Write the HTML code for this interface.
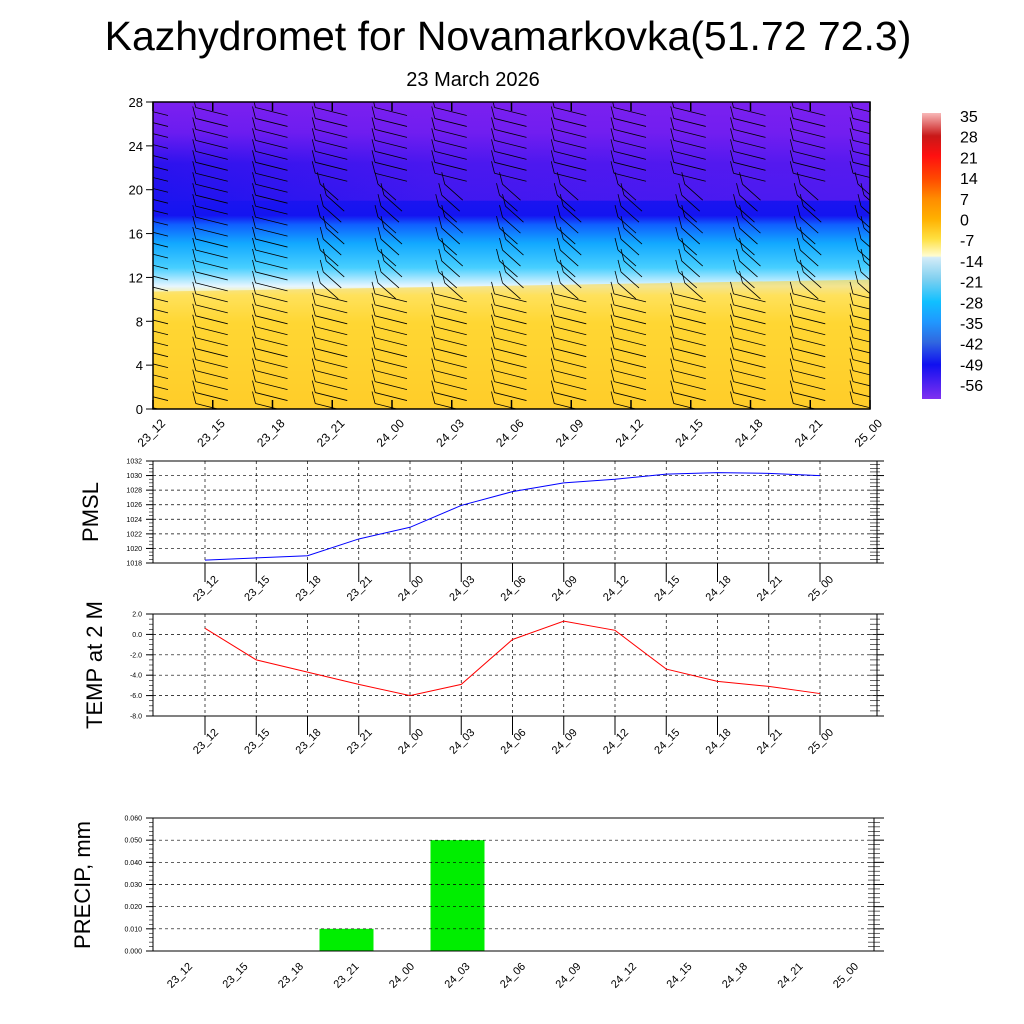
<!DOCTYPE html>
<html><head><meta charset="utf-8">
<style>
html,body{margin:0;padding:0;background:#fff;}
svg{display:block;font-family:"Liberation Sans",Arial,sans-serif;}
</style></head>
<body>
<svg id="s" width="1024" height="1024" viewBox="0 0 1024 1024" xmlns="http://www.w3.org/2000/svg">
<defs>
<clipPath id="clipTop"><rect x="153" y="102" width="717" height="307"/></clipPath>
<linearGradient id="bg" x1="0" y1="1" x2="0" y2="0">
<stop offset="0" stop-color="#ffc21e"/>
<stop offset="0.28" stop-color="#ffd833"/>
<stop offset="0.37" stop-color="#fff08c"/>
<stop offset="0.40" stop-color="#e6f6ff"/>
<stop offset="0.46" stop-color="#48cfff"/>
<stop offset="0.54" stop-color="#12a8ff"/>
<stop offset="0.60" stop-color="#1060ff"/>
<stop offset="0.63" stop-color="#1414f0"/>
<stop offset="0.80" stop-color="#2c12ee"/>
<stop offset="0.90" stop-color="#6a1cf0"/>
<stop offset="1" stop-color="#7c20f0"/>
</linearGradient>
<linearGradient id="violet" x1="0" y1="0" x2="1" y2="0">
<stop offset="0" stop-color="#7a20f0" stop-opacity="0"/>
<stop offset="0.4" stop-color="#7a20f0" stop-opacity="0.7"/>
<stop offset="1" stop-color="#7a20f0" stop-opacity="1"/>
</linearGradient>
<linearGradient id="cb" x1="0" y1="0" x2="0" y2="1">
<stop offset="0" stop-color="#f8b8b8"/>
<stop offset="0.08" stop-color="#c81818"/>
<stop offset="0.15" stop-color="#ff1010"/>
<stop offset="0.23" stop-color="#ff4a00"/>
<stop offset="0.30" stop-color="#ff8c00"/>
<stop offset="0.37" stop-color="#ffb000"/>
<stop offset="0.44" stop-color="#ffe040"/>
<stop offset="0.50" stop-color="#fffcd0"/>
<stop offset="0.505" stop-color="#d4ecf8"/>
<stop offset="0.58" stop-color="#80d0f0"/>
<stop offset="0.66" stop-color="#10c0ff"/>
<stop offset="0.73" stop-color="#2098ff"/>
<stop offset="0.80" stop-color="#3068e0"/>
<stop offset="0.88" stop-color="#1010f0"/>
<stop offset="1" stop-color="#8030f0"/>
</linearGradient>
</defs>
<text x="508" y="50" font-size="41" text-anchor="middle">Kazhydromet for Novamarkovka(51.72 72.3)</text>
<text x="473" y="86" font-size="20" text-anchor="middle">23 March 2026</text>
<g id="topPanel"></g>
<g id="cbar"></g>
<g id="pm"></g>
<g id="tp"></g>
<g id="pr"></g>
</svg>
<script>
const times = ["23_12","23_15","23_18","23_21","24_00","24_03","24_06","24_09","24_12","24_15","24_18","24_21","25_00"];
const heightTicks = [0,4,8,12,16,20,24,28];
const pmsl = [1018.4,1018.7,1019.0,1021.3,1022.9,1025.9,1027.8,1029.0,1029.5,1030.2,1030.4,1030.3,1030.0];
const pmslTicks = [1018,1020,1022,1024,1026,1028,1030,1032];
const temp = [0.6,-2.5,-3.7,-4.9,-6.0,-4.9,-0.5,1.3,0.4,-3.4,-4.6,-5.1,-5.8];
const tempTicks = [-8,-6,-4,-2,0,2];
const precip = [0,0,0,0.01,0,0.05,0,0,0,0,0,0,0];
const precipTicks = [0,0.01,0.02,0.03,0.04,0.05,0.06];
const cbLabels = ["35","28","21","14","7","0","-7","-14","-21","-28","-35","-42","-49","-56"];

const NS="http://www.w3.org/2000/svg";
function mk(p,tag,at,txt){const e=document.createElementNS(NS,tag);for(const k in at)e.setAttribute(k,at[k]);if(txt!==undefined)e.textContent=txt;p.appendChild(e);return e;}
function lin(d0,d1,r0,r1){return v=>r0+(v-d0)/(d1-d0)*(r1-r0);}

// ---- top cross section
const topG=document.getElementById('topPanel');
const TX=lin(0,12,153,870), TY=lin(0,28,409,102);
let r=mk(topG,'rect',{x:153,y:102,width:717,height:307,fill:'url(#bg)'});


mk(topG,'polygon',{points:`153,${TY(10.7)} 870,${TY(11.8)} 870,409 153,409`,fill:'#ffd633',opacity:0.55});
mk(topG,'rect',{x:153,y:102,width:717,height:TY(19)-102,fill:'url(#violet)',opacity:0.55});
const barbs=mk(topG,'g',{'clip-path':'url(#clipTop)'});
for(let i=0;i<times.length;i++){
  const cx=TX(i);
  const g=mk(barbs,'g',{stroke:'#000','stroke-width':0.8,fill:'none'});
  
  
  for(let h=0.5;h<28;h+=1.0){
    const y=TY(h); let bx=cx-17, dx=32, dy=8;
    if(h>11&&h<21&&i>=3){bx=cx-10+((i*7+Math.round(h*3))%9)-4;dx=18;dy=16;}
    mk(g,'line',{x1:bx,y1:y,x2:bx-3,y2:y-12});
    mk(g,'line',{x1:bx,y1:y,x2:bx+dx,y2:y+dy});
  }
}
mk(topG,'rect',{x:153,y:102,width:717,height:307,fill:'none',stroke:'#000','stroke-width':1.5});
heightTicks.forEach(v=>{const y=TY(v);
  mk(topG,'line',{x1:153,y1:y,x2:146,y2:y,stroke:'#000'});
  const t=mk(topG,'text',{x:143,y:y+5,'font-size':13,'text-anchor':'end'},String(v));
  
  
});
times.forEach((s,i)=>{const x=TX(i);
  mk(topG,'line',{x1:x,y1:409,x2:x,y2:400,stroke:'#000','stroke-width':1.5});
  mk(topG,'line',{x1:x,y1:102,x2:x,y2:111,stroke:'#000','stroke-width':1.5});
  const t=mk(topG,'text',{x:x+13,y:424,'font-size':12,'text-anchor':'end',transform:`rotate(-45 ${x+13} 424)`},s);
  
  
});

// ---- colorbar
const cb=document.getElementById('cbar');
mk(cb,'rect',{x:922,y:113,width:19,height:286,fill:'url(#cb)'});
cbLabels.forEach((s,i)=>{const t=mk(cb,'text',{x:960,y:122+i*20.7,'font-size':16},s);
  
  
});

// ---- line panels
function panel(id,y0,y1,ticks,fmt,vals,color,ylabel,lx){
  const g=document.getElementById(id);
  const X=lin(0,12,205,820), Y=lin(ticks[0],ticks[ticks.length-1],y1,y0);
  mk(g,'rect',{x:153,y:y0,width:724,height:y1-y0,fill:'none',stroke:'#000','stroke-width':1});
  ticks.forEach(v=>{const y=Y(v);
    mk(g,'line',{x1:153,y1:y,x2:877,y2:y,stroke:'#000','stroke-width':0.7,'stroke-dasharray':'3,3'});
    mk(g,'line',{x1:146,y1:y,x2:153,y2:y,stroke:'#000'});
    mk(g,'line',{x1:877,y1:y,x2:884,y2:y,stroke:'#000'});
    const t=mk(g,'text',{x:142,y:y+2.5,'font-size':7,'text-anchor':'end'},fmt(v));
    
    
  });
  for(let k=0;k<(ticks.length-1)*4;k++){const y=y1-(y1-y0)*k/((ticks.length-1)*4);
    mk(g,'line',{x1:149,y1:y,x2:153,y2:y,stroke:'#000','stroke-width':0.6});
    mk(g,'line',{x1:870,y1:y,x2:880,y2:y,stroke:'#000','stroke-width':0.6});}
  times.forEach((s,i)=>{const x=X(i);
    mk(g,'line',{x1:x,y1:y0,x2:x,y2:y1,stroke:'#000','stroke-width':0.7,'stroke-dasharray':'3,3'});
    mk(g,'line',{x1:x,y1:y1,x2:x,y2:y1+19,stroke:'#000'});
    const t=mk(g,'text',{x:x+14,y:y1+17,'font-size':11,'text-anchor':'end',transform:`rotate(-45 ${x+14} ${y1+17})`},s);
    
    
  });
  const p=mk(g,'polyline',{points:vals.map((v,i)=>X(i)+','+Y(v)).join(' '),fill:'none',stroke:color,'stroke-width':1});
  
  
  const cy=(y0+y1)/2;
  const t=mk(g,'text',{x:lx,y:cy,'font-size':22,'text-anchor':'middle',transform:`rotate(-90 ${lx} ${cy})`},ylabel);
  
  
}
panel('pm',461,563,pmslTicks,v=>String(v),pmsl,'#0000ff','PMSL',98);
panel('tp',614,716,tempTicks,v=>v.toFixed(1),temp,'#ff0000','TEMP at 2 M',102);

// ---- precip
(function(){
  const g=document.getElementById('pr');
  const y0=818,y1=951;
  const X=lin(0,12,180,846), Y=lin(0,0.06,y1,y0);
  precip.forEach((v,i)=>{ if(v<=0)return;
    const b=mk(g,'rect',{x:X(i)-27,y:Y(v),width:54,height:y1-Y(v),fill:'#00ee00'});
    
    
  });
  mk(g,'rect',{x:153,y:y0,width:721,height:y1-y0,fill:'none',stroke:'#000','stroke-width':1});
  precipTicks.forEach(v=>{const y=Y(v);
    mk(g,'line',{x1:153,y1:y,x2:874,y2:y,stroke:'#000','stroke-width':0.7,'stroke-dasharray':'3,3'});
    mk(g,'line',{x1:146,y1:y,x2:153,y2:y,stroke:'#000'});
    mk(g,'line',{x1:874,y1:y,x2:884,y2:y,stroke:'#000'});
    const t=mk(g,'text',{x:142,y:y+2.5,'font-size':7,'text-anchor':'end'},v.toFixed(3));
    
    
  });
  for(let k=0;k<30;k++){const y=y1-(y1-y0)*k/30;
    mk(g,'line',{x1:149,y1:y,x2:153,y2:y,stroke:'#000','stroke-width':0.6});
    mk(g,'line',{x1:868,y1:y,x2:880,y2:y,stroke:'#000','stroke-width':0.6});}
  times.forEach((s,i)=>{const x=X(i);
    const t=mk(g,'text',{x:x+13,y:y1+16,'font-size':11,'text-anchor':'end',transform:`rotate(-45 ${x+13} ${y1+16})`},s);
    
    
  });
  const t=mk(g,'text',{x:90,y:885,'font-size':22,'text-anchor':'middle',transform:'rotate(-90 90 885)'},'PRECIP, mm');
  
  
})();
</script>
</body></html>
